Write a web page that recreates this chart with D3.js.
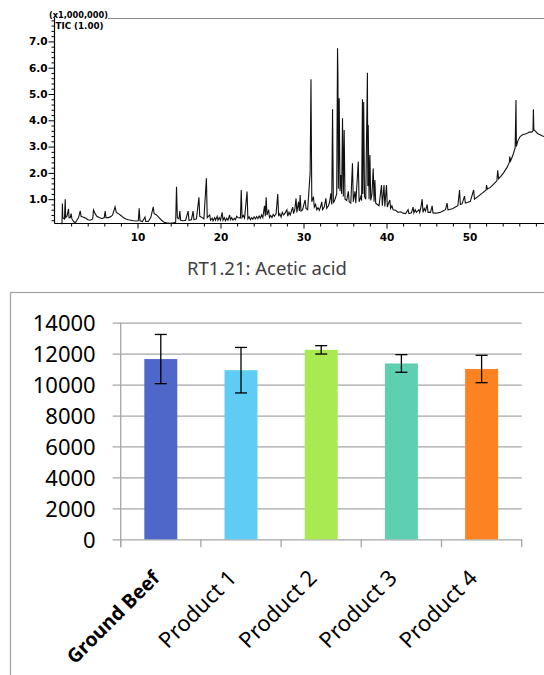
<!DOCTYPE html>
<html><head><meta charset="utf-8">
<script src="https://cdn.jsdelivr.net/npm/d3@7"></script>
<style>html,body{margin:0;padding:0;background:#fff;}svg{display:block;}</style>
</head><body>
<svg id="c" width="544" height="675"></svg>
<script>
// ---------- Chromatogram (TIC) data: [retention time (min), intensity (x1,000,000)] ----------
const ticTrace = [
[0.9,0.05],[0.95,0.84],[1.0,0.3],[1.2,0.25],[1.29,1.0],[1.35,0.3],[1.5,0.35],[1.69,0.63],[1.75,0.3],[1.9,0.3],[2.0,0.45],[2.1,0.25],[2.3,0.15],[2.5,0.1],[2.7,0.2],[2.9,0.3],[3.1,0.56],[3.2,0.35],[3.4,0.32],[3.6,0.3],[3.8,0.28],[4.0,0.22],[4.3,0.2],[4.6,0.25],[4.7,0.59],[4.9,0.45],[5.1,0.35],[5.4,0.3],[5.7,0.26],[6.0,0.3],[6.1,0.55],[6.2,0.3],[6.5,0.3],[6.8,0.34],[7.0,0.4],[7.3,0.71],[7.45,0.5],[7.7,0.45],[8.0,0.38],[8.3,0.3],[8.6,0.25],[8.9,0.22],[9.2,0.2],[9.5,0.18],[9.8,0.17],[10.1,0.18],[10.2,0.65],[10.3,0.18],[10.6,0.15],[10.9,0.32],[11.0,0.15],[11.3,0.15],[11.6,0.3],[11.9,0.71],[12.0,0.45],[12.3,0.4],[12.6,0.3],[12.9,0.2],[13.2,0.12],[13.5,0.1],[13.9,0.08],[14.3,0.1],[14.6,0.12],[14.7,1.47],[14.8,0.3],[15.0,0.25],[15.1,0.55],[15.2,0.2],[15.5,0.18],[15.8,0.2],[16.1,0.55],[16.2,0.2],[16.5,0.22],[16.7,0.55],[16.8,0.22],[17.1,0.25],[17.4,1.07],[17.5,0.35],[17.8,0.3],[18.0,0.25],[18.3,1.8],[18.4,0.3],[18.7,0.4],[18.8,0.2],[19.0,0.28],[19.1,0.18],[19.3,0.3],[19.4,0.2],[19.6,0.35],[19.7,0.2],[19.85,0.3],[20.0,0.2],[20.2,0.5],[20.3,0.2],[20.45,0.3],[20.6,0.18],[20.75,0.28],[20.9,0.2],[21.1,0.4],[21.2,0.22],[21.35,0.3],[21.5,0.2],[21.65,0.27],[21.8,0.22],[21.95,0.35],[22.1,0.3],[22.4,0.28],[22.5,1.35],[22.6,0.3],[22.75,0.38],[22.9,0.28],[23.2,1.29],[23.3,0.25],[23.45,0.33],[23.6,0.22],[23.75,0.3],[23.9,0.24],[24.05,0.33],[24.2,0.25],[24.35,0.34],[24.5,0.26],[24.65,0.36],[24.8,0.28],[24.95,0.4],[25.1,0.3],[25.3,0.75],[25.4,0.35],[25.5,1.07],[25.6,0.4],[25.8,0.6],[25.9,0.3],[26.05,0.38],[26.2,0.3],[26.35,0.42],[26.5,0.35],[26.7,0.45],[26.9,1.2],[27.0,0.35],[27.15,0.45],[27.3,0.32],[27.45,0.5],[27.6,0.4],[27.8,0.48],[28.0,0.6],[28.1,0.35],[28.25,0.5],[28.4,0.4],[28.55,0.55],[28.7,0.7],[28.8,0.45],[28.95,0.6],[29.1,1.03],[29.2,0.5],[29.4,0.9],[29.5,0.55],[29.6,1.16],[29.7,0.55],[29.9,0.6],[30.0,0.75],[30.2,0.97],[30.3,0.65],[30.5,0.6],[30.8,2.0],[30.9,5.56],[31.0,0.9],[31.2,1.1],[31.3,0.7],[31.45,0.8],[31.6,0.6],[31.75,0.68],[31.9,0.58],[32.05,0.7],[32.2,0.9],[32.3,0.6],[32.5,0.7],[32.7,1.03],[32.8,0.65],[33.0,0.75],[33.15,0.9],[33.3,1.22],[33.4,0.8],[33.5,4.42],[33.6,0.85],[33.8,1.0],[34.0,1.2],[34.1,6.74],[34.15,5.7],[34.2,1.4],[34.3,4.84],[34.4,1.3],[34.5,1.92],[34.6,1.2],[34.7,4.08],[34.8,1.1],[34.9,3.63],[35.0,1.0],[35.2,0.95],[35.4,1.3],[35.5,0.9],[35.7,0.85],[35.9,2.37],[36.0,0.9],[36.2,1.3],[36.3,0.85],[36.6,2.43],[36.7,0.9],[36.9,1.1],[37.0,0.95],[37.1,4.8],[37.15,1.2],[37.25,4.7],[37.35,1.1],[37.5,1.0],[37.7,5.81],[37.75,1.5],[37.8,3.82],[37.9,1.0],[38.0,2.68],[38.1,0.95],[38.25,1.2],[38.4,2.17],[38.5,0.9],[38.6,1.73],[38.7,0.85],[38.9,0.8],[39.1,0.75],[39.4,1.54],[39.5,0.75],[39.7,1.54],[39.8,0.72],[40.0,1.54],[40.1,0.7],[40.25,0.85],[40.4,0.97],[40.5,0.65],[40.65,0.75],[40.8,0.6],[41.1,0.58],[41.4,0.5],[41.7,0.52],[42.0,0.47],[42.3,0.45],[42.6,0.6],[42.7,0.45],[43.0,0.48],[43.2,0.7],[43.3,0.48],[43.45,0.6],[43.6,0.5],[43.9,0.6],[44.0,0.5],[44.15,0.7],[44.3,1.0],[44.4,0.5],[44.55,0.65],[44.7,0.55],[44.9,0.8],[45.0,0.5],[45.3,0.5],[45.5,0.75],[45.6,0.48],[45.9,0.47],[46.2,0.48],[46.5,0.5],[46.8,0.55],[47.1,0.6],[47.3,0.85],[47.4,0.6],[47.7,0.62],[48.0,0.65],[48.3,0.7],[48.6,0.75],[48.8,1.35],[48.9,0.8],[49.1,0.82],[49.4,1.12],[49.5,0.85],[49.8,0.88],[50.1,0.92],[50.5,1.35],[50.6,1.0],[51.0,1.1],[51.5,1.22],[52.0,1.35],[52.05,1.54],[52.15,1.38],[52.5,1.45],[53.0,1.6],[53.3,1.7],[53.4,2.1],[53.5,1.78],[53.8,1.88],[54.1,2.0],[54.5,2.2],[54.8,2.4],[54.85,2.62],[54.95,2.45],[55.2,2.65],[55.5,2.95],[55.6,4.77],[55.65,3.0],[55.8,3.2],[56.1,3.38],[56.4,3.45],[56.7,3.48],[56.9,3.5],[57.2,3.55],[57.5,3.55],[57.65,3.6],[57.7,4.42],[57.75,3.65],[57.9,3.6],[58.2,3.5],[58.5,3.45],[58.8,3.4],[59.0,3.38]
];
const ticYLabels = [1, 2, 3, 4, 5, 6, 7];
const ticXLabels = [10, 20, 30, 40, 50];
const ticScaleNote = "(x1,000,000)";
const ticName = "TIC (1.00)";

// ---------- Bar chart data ----------
const chartTitle = "RT1.21: Acetic acid";
const categories = ["Ground Beef", "Product 1", "Product 2", "Product 3", "Product 4"];
const means = [11650, 10930, 12245, 11365, 11008];
const errors = [1590, 1470, 270, 570, 885];
const yTicks = [0, 2000, 4000, 6000, 8000, 10000, 12000, 14000];
const barColors = ["#4F67C8", "#5FCDF3", "#A9EA52", "#5ECFB1", "#FD8322"];

const svg = d3.select("#c");

// ================= Chromatogram =================
const xT = d3.scaleLinear().domain([0, 59]).range([54.5, 544.2]);
const yT = d3.scaleLinear().domain([0, 7]).range([225.5, 41.4]);
const axisY = 223.5;
const chromFont = "'DejaVu Sans', sans-serif";

svg.append("line").attr("x1", 108).attr("x2", 544).attr("y1", 18.5).attr("y2", 18.5)
  .attr("stroke", "#8a8a8a").attr("stroke-width", 1);

const gy = svg.append("g").attr("transform", `translate(${xT(0)},0)`)
  .call(d3.axisLeft(yT).tickValues(d3.range(1, 40).map(i => +(i * 0.2).toFixed(1)))
    .tickSize(3).tickFormat(d => ticYLabels.includes(d) ? d.toFixed(1) : ""));
gy.select(".domain").remove();
gy.selectAll(".tick line").attr("stroke", "#000").attr("x2", d => ticYLabels.includes(d) ? -6 : -3);
gy.selectAll(".tick text").attr("x", -7).attr("font-family", chromFont).attr("font-weight", "bold")
  .attr("font-size", 10.5).attr("fill", "#000");
svg.append("line").attr("x1", xT(0)).attr("x2", xT(0)).attr("y1", 18).attr("y2", axisY)
  .attr("stroke", "#000").attr("stroke-width", 1.2);

const gx = svg.append("g").attr("transform", `translate(0,${axisY})`)
  .call(d3.axisBottom(xT).tickValues(d3.range(2, 59, 2)).tickSize(3)
    .tickFormat(d => ticXLabels.includes(d) ? d : ""));
gx.select(".domain").remove();
gx.selectAll(".tick line").attr("stroke", "#000").attr("y2", d => ticXLabels.includes(d) ? 5 : 3);
gx.selectAll(".tick text").attr("y", 10).attr("font-family", chromFont).attr("font-weight", "bold")
  .attr("font-size", 10.5).attr("fill", "#000");
svg.append("line").attr("x1", xT(0)).attr("x2", 544).attr("y1", axisY).attr("y2", axisY)
  .attr("stroke", "#000").attr("stroke-width", 1.2);

svg.append("text").attr("x", 49).attr("y", 17.5).text(ticScaleNote)
  .attr("font-family", chromFont).attr("font-weight", "bold").attr("font-size", 9)
  .attr("textLength", 59).attr("lengthAdjust", "spacingAndGlyphs");
svg.append("text").attr("x", 55.5).attr("y", 28.5).text(ticName)
  .attr("font-family", chromFont).attr("font-weight", "bold").attr("font-size", 9)
  .attr("textLength", 48).attr("lengthAdjust", "spacingAndGlyphs");

svg.append("path").datum(ticTrace)
  .attr("d", d3.line().x(d => xT(d[0])).y(d => yT(d[1])))
  .attr("fill", "none").attr("stroke", "#111").attr("stroke-width", 1.1);

// ================= Bar chart =================
const font = "'Noto Sans', sans-serif";
svg.append("text").attr("x", 267).attr("y", 275).attr("text-anchor", "middle")
  .attr("font-family", font).attr("font-size", 18.5).attr("fill", "#404040").text(chartTitle);

svg.append("rect").attr("x", 10.5).attr("y", 292.5).attr("width", 600).attr("height", 500)
  .attr("fill", "none").attr("stroke", "#a6a6a6").attr("stroke-width", 1.3);

const pLeft = 120.7, pRight = 521.7, pTop = 322.7, pBottom = 539.3;
const xB = d3.scaleBand().domain(categories).range([pLeft, pRight]).paddingInner(0.589).paddingOuter(0.2945);
const yB = d3.scaleLinear().domain([0, 14000]).range([pBottom, pTop]);

const gY = svg.append("g").attr("transform", `translate(${pLeft},0)`)
  .call(d3.axisLeft(yB).tickValues(yTicks).tickSize(8).tickFormat(d3.format("d")));
gY.select(".domain").remove();
gY.selectAll(".tick line").attr("x1", pRight - pLeft).attr("x2", -8).attr("stroke", "#a6a6a6").attr("stroke-width", 1.3);
gY.selectAll(".tick text").attr("font-family", font).attr("font-size", 22).attr("fill", "#000")
  .attr("x", -25).attr("dy", "0.35em");

svg.append("line").attr("x1", pLeft).attr("x2", pLeft).attr("y1", pTop).attr("y2", pBottom + 8)
  .attr("stroke", "#a6a6a6").attr("stroke-width", 1.3);
const boundaries = categories.map(c => xB(c) - xB.step() * 0.2945).concat([pRight]);
svg.selectAll(".btick").data(boundaries).enter().append("line")
  .attr("x1", d => d).attr("x2", d => d).attr("y1", pBottom).attr("y2", pBottom + 8)
  .attr("stroke", "#a6a6a6").attr("stroke-width", 1.3);

svg.selectAll(".bar").data(categories).enter().append("rect")
  .attr("x", d => xB(d)).attr("width", xB.bandwidth())
  .attr("y", (d, i) => yB(means[i])).attr("height", (d, i) => yB(0) - yB(means[i]))
  .attr("fill", (d, i) => barColors[i]);

const eb = svg.selectAll(".eb").data(categories).enter().append("g");
const cx = d => xB(d) + xB.bandwidth() / 2;
eb.append("line").attr("x1", cx).attr("x2", cx)
  .attr("y1", (d, i) => yB(means[i] + errors[i])).attr("y2", (d, i) => yB(means[i] - errors[i]));
eb.append("line").attr("x1", d => cx(d) - 6).attr("x2", d => cx(d) + 6)
  .attr("y1", (d, i) => yB(means[i] + errors[i])).attr("y2", (d, i) => yB(means[i] + errors[i]));
eb.append("line").attr("x1", d => cx(d) - 6).attr("x2", d => cx(d) + 6)
  .attr("y1", (d, i) => yB(means[i] - errors[i])).attr("y2", (d, i) => yB(means[i] - errors[i]));
eb.selectAll("line").attr("stroke", "#000").attr("stroke-width", 1.3);

svg.selectAll(".cl").data(categories).enter().append("text")
  .attr("transform", (d, i) => `translate(${cx(d) - (i === 0 ? 0 : 3)},${pBottom + 40}) rotate(-45)`)
  .attr("text-anchor", "end")
  .attr("font-family", font).attr("font-size", (d, i) => i === 0 ? 19.5 : 22).attr("fill", "#000")
  .attr("font-weight", (d, i) => i === 0 ? "bold" : "normal")
  .text(d => d);
</script>
</body></html>
